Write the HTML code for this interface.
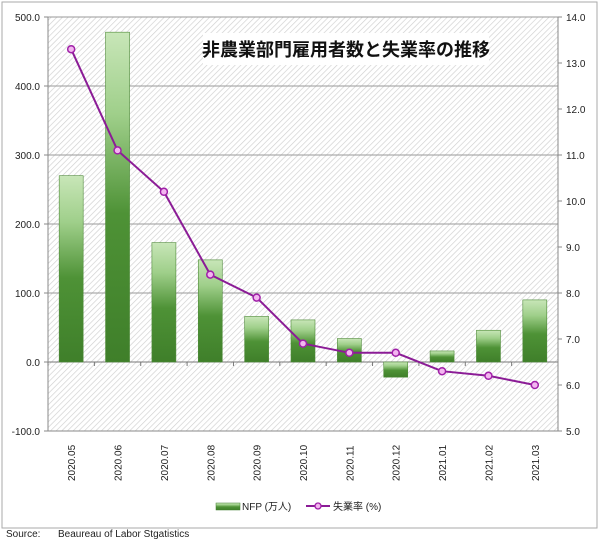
<!DOCTYPE html>
<html><head><meta charset="utf-8"><style>
body{margin:0;background:#fff;width:600px;height:546px;overflow:hidden;font-family:"Liberation Sans","Noto Sans CJK JP",sans-serif}
</style></head><body>
<svg width="600" height="546" xmlns="http://www.w3.org/2000/svg">
<defs>
<pattern id="hatch" width="4" height="4" patternUnits="userSpaceOnUse" patternTransform="rotate(45)">
<rect width="4" height="4" fill="#fff"/><line x1="0" y1="0" x2="0" y2="4" stroke="#cfcfcf" stroke-width="1.3"/></pattern>
<linearGradient id="barg" x1="0" y1="1" x2="0" y2="0">
<stop offset="0" stop-color="#3f7f2a"/><stop offset="0.45" stop-color="#4e9236"/><stop offset="0.75" stop-color="#9fcf8a"/><stop offset="1" stop-color="#c8e6b8"/></linearGradient>
</defs>
<rect x="2" y="2" width="595" height="526" fill="#fff" stroke="#aaa"/>
<rect x="48" y="17" width="510" height="414" fill="url(#hatch)"/>
<g id="grid"></g><g id="bars"></g><g id="axes"></g><g id="line"></g>
<rect x="203" y="33" width="286" height="32" fill="#fff"/>
<text x="346" y="56" text-anchor="middle" font-size="18" font-weight="bold" fill="#111">非農業部門雇用者数と失業率の推移</text>
<g>
<rect x="216" y="503" width="24" height="7" fill="url(#barg)" stroke="#3f7f2a" stroke-width="0.5"/>
<text x="242" y="510" font-size="10" fill="#222">NFP (万人)</text>
<line x1="306" y1="506" x2="330" y2="506" stroke="#8b1c96" stroke-width="2"/>
<circle cx="318" cy="506" r="3" fill="#f3b6f0" stroke="#a020a8" stroke-width="1.3"/>
<text x="333" y="510" font-size="10" fill="#222">失業率 (%)</text>
</g>
<text x="6" y="537" font-size="10" fill="#222">Source:</text>
<text x="58" y="537" font-size="10" fill="#222">Beaureau of Labor Stgatistics</text>
</svg>
<script>
const categories=["2020.05","2020.06","2020.07","2020.08","2020.09","2020.10","2020.11","2020.12","2021.01","2021.02","2021.03"];
const nfp=[270,478,173,148,66,61,34,-22,16,46,90];
const rate=[13.3,11.1,10.2,8.4,7.9,6.9,6.7,6.7,6.3,6.2,6.0];
const leftTicks=[-100,0,100,200,300,400,500];
const rightTicks=[5,6,7,8,9,10,11,12,13,14];
const X0=48,X1=558,Y0=17,Y1=431;
const yL=v=>Y1-(v+100)/600*(Y1-Y0);
const yR=v=>Y1-(v-5)/9*(Y1-Y0);
const bw=(X1-X0)/categories.length;
const xc=i=>X0+bw*(i+0.5);
const NS="http://www.w3.org/2000/svg";
function mk(t,a,p){const e=document.createElementNS(NS,t);for(const k in a)e.setAttribute(k,a[k]);p.appendChild(e);return e;}
const grid=document.getElementById('grid'),bars=document.getElementById('bars'),axes=document.getElementById('axes'),line=document.getElementById('line');
leftTicks.forEach(v=>{const y=yL(v);
 const g=mk('line',{x1:X0,x2:X1,y1:y,y2:y,stroke:v===0?'#777':'#999','stroke-width':1},grid);
 
 mk('line',{x1:X0-4,x2:X0,y1:y,y2:y,stroke:'#888'},axes);
 const t=mk('text',{x:X0-8,y:y+4,'text-anchor':'end','font-size':10,fill:'#222'},axes);t.textContent=v.toFixed(1);
 });
rightTicks.forEach(v=>{const y=yR(v);
 mk('line',{x1:X1,x2:X1+4,y1:y,y2:y,stroke:'#888'},axes);
 const t=mk('text',{x:X1+8,y:y+4,'font-size':10,fill:'#222'},axes);t.textContent=v.toFixed(1);
 });
mk('line',{x1:X0,x2:X0,y1:Y0,y2:Y1,stroke:'#888'},axes);
mk('line',{x1:X1,x2:X1,y1:Y0,y2:Y1,stroke:'#888'},axes);
mk('line',{x1:X0,x2:X1,y1:Y1,y2:Y1,stroke:'#888'},axes);
categories.forEach((c,i)=>{
 const v=nfp[i],y=Math.min(yL(v),yL(0)),h=Math.abs(yL(v)-yL(0));
 const r=mk('rect',{x:xc(i)-12,y:y,width:24,height:h,fill:'url(#barg)',stroke:'#4e8a38','stroke-width':0.6},bars);
 
 const tx=X0+bw*i;mk('line',{x1:tx,x2:tx,y1:yL(0),y2:yL(0)+4,stroke:'#777'},axes);
 const t=mk('text',{transform:`translate(${xc(i)+4},${Y1+50}) rotate(-90)`,'font-size':10,fill:'#222'},axes);t.textContent=c;
 });
const pl=mk('polyline',{points:rate.map((v,i)=>xc(i)+','+yR(v)).join(' '),fill:'none',stroke:'#8b1c96','stroke-width':2},line);

rate.forEach((v,i)=>{const c=mk('circle',{cx:xc(i),cy:yR(v),r:3.5,fill:'#f3b6f0',stroke:'#a020a8','stroke-width':1.5},line);
 });
</script>
</body></html>
